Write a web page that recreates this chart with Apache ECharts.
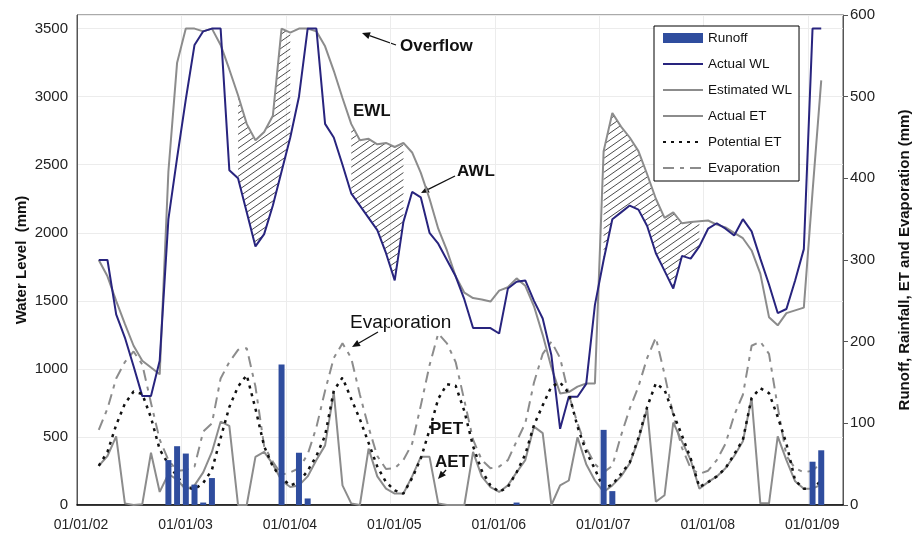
<!DOCTYPE html>
<html>
<head>
<meta charset="utf-8">
<script src="https://cdn.jsdelivr.net/npm/echarts@6/dist/echarts.min.js"></script>
<style>
  html, body { margin: 0; padding: 0; background: #fff; }
  #main { width: 919px; height: 534px; }
</style>
</head>
<body>
<div id="main"></div>
<script>
// x axis = months since 01/01/2002, monthly values plotted mid-month
var firstMonth = 2; // March 2002
var yearTicks = [0, 12, 24, 36, 48, 60, 72, 84];
var yearLabels = ["01/01/02", "01/01/03", "01/01/04", "01/01/05", "01/01/06", "01/01/07", "01/01/08", "01/01/09"];

// water levels (mm), left axis
var actualWL = [1800, 1800, 1400, 1230, 1020, 800, 800, 1060, 2100, 2550,
  2980, 3380, 3480, 3500, 3500, 2460, 2400, 2150, 1900, 1990,
  2200, 2450, 2700, 3000, 3500, 3500, 2800, 2700, 2500, 2290,
  2200, 2110, 2020, 1850, 1650, 2080, 2300, 2260, 2000, 1920,
  1800, 1680, 1510, 1300, 1300, 1300, 1260, 1590, 1640, 1650,
  1500, 1370, 1100, 560, 795, 795, 890, 1470, 1800, 2100,
  2150, 2200, 2170, 2050, 1850, 1720, 1590, 1830, 1810, 1900,
  2030, 2070, 2030, 1980, 2100, 2010, 1810, 1620, 1410, 1440,
  1650, 1880, 3500, 3500];
var estimatedWL = [1800, 1680, 1500, 1330, 1170, 1060, 1010, 960, 2450, 3250,
  3500, 3500, 3480, 3500, 3380, 3200, 3010, 2800, 2680, 2740,
  2860, 3500, 3470, 3500, 3500, 3480, 3370, 3190, 2990, 2800,
  2680, 2690, 2650, 2660, 2630, 2660, 2590, 2440, 2250, 2030,
  1870, 1680, 1560, 1520, 1510, 1495, 1575, 1600, 1665, 1610,
  1460, 1250, 1010, 820, 830, 870, 893, 893, 2600, 2880,
  2780, 2700, 2600, 2430, 2250, 2110, 2150, 2070, 2080, 2085,
  2090, 2060, 2040, 2000, 1960, 1870, 1700, 1380, 1320, 1410,
  1430, 1450, 2300, 3120];

// runoff, ET and evaporation (mm), right axis
var actualET = [48, 60, 84, 2, 0, 1, 64, 16, 38, 31,
  19, 24, 40, 65, 102, 97, 0, 0, 59, 65,
  50, 30, 22, 24, 35, 55, 73, 138, 24, 2,
  0, 69, 35, 20, 14, 14, 35, 59, 59, 2,
  0, 0, 0, 65, 35, 22, 16, 24, 40, 55,
  96, 88, 0, 24, 30, 83, 50, 30, 16, 24,
  35, 51, 80, 118, 4, 12, 101, 78, 55, 20,
  28, 35, 45, 60, 78, 131, 2, 2, 84, 55,
  29, 20, 20, 25];
var potentialET = [48, 65, 98, 124, 139, 136, 107, 68, 50, 35,
  22, 19, 27, 43, 82, 120, 145, 159, 118, 72,
  47, 33, 24, 28, 42, 60, 85, 140, 156, 130,
  105, 76, 47, 28, 18, 14, 33, 57, 92, 130,
  148, 146, 115, 72, 42, 24, 16, 22, 40, 62,
  98, 122, 145, 150, 137, 96, 65, 44, 20, 25,
  38, 52, 82, 120, 149, 141, 112, 85, 57, 22,
  28, 35, 45, 62, 80, 131, 143, 137, 108, 75,
  30, 20, 20, 30];
var evaporation = [92, 118, 155, 175, 188, 172, 125, 80, 55, 42,
  43, 47, 90, 100, 155, 175, 190, 192, 145, 72,
  53, 37, 40, 45, 62, 95, 140, 180, 198, 180,
  135, 95, 60, 44, 45, 55, 75, 122, 171, 210,
  198, 175, 128, 80, 55, 45, 47, 55, 78, 100,
  150, 185, 200, 180, 135, 100, 70, 50, 40, 48,
  85, 118, 145, 180, 205, 160, 110, 70, 45, 38,
  42, 55, 75, 110, 135, 195, 200, 185, 120, 60,
  45, 40, 42, 52];
var runoffMonth = [10, 11, 12, 13, 14, 15, 23, 25, 26, 50, 60, 61, 84, 85];
var runoff = [55, 72, 63, 25, 3, 33, 172, 64, 8, 3, 92, 17, 53, 67];

// months shaded between estimated and actual WL
var hatchRanges = [[18, 24], [31, 37], [60, 71]];

function toPoints(arr) {
  return arr.map(function (v, i) { return [firstMonth + i + 0.5, v]; });
}

// diagonal hatch pattern
var hatch = document.createElement("canvas");
hatch.width = 10; hatch.height = 7;
var hc = hatch.getContext("2d");
hc.strokeStyle = "#4a4a4a";
hc.lineWidth = 1;
hc.beginPath();
hc.moveTo(-10, 14); hc.lineTo(20, -7);
hc.moveTo(-20, 14); hc.lineTo(10, -7);
hc.moveTo(0, 14); hc.lineTo(30, -7);
hc.stroke();

function arrow(x1, y1, x2, y2) {
  var a = Math.atan2(y2 - y1, x2 - x1), L = 8, W = 3.5;
  var bx = x2 - L * Math.cos(a), by = y2 - L * Math.sin(a);
  return [
    { type: "line", shape: { x1: x1, y1: y1, x2: bx, y2: by }, style: { stroke: "#111", lineWidth: 1.3 } },
    { type: "polygon", shape: { points: [[x2, y2],
      [bx + W * Math.sin(a), by - W * Math.cos(a)],
      [bx - W * Math.sin(a), by + W * Math.cos(a)]] }, style: { fill: "#111" } }
  ];
}
function note(txt, x, y, font) {
  return { type: "text", x: x, y: y, style: { text: txt, font: font, fill: "#111", verticalAlign: "middle" } };
}

var chart = echarts.init(document.getElementById("main"));
var FONT = "Liberation Sans, Arial, sans-serif";
var BOLD = "bold 17px Liberation Sans, Arial, sans-serif";
var noSymbol = { opacity: 0 };

var option = {
  animation: false,
  backgroundColor: "#fff",
  textStyle: { fontFamily: FONT },
  grid: { left: 77, right: 76, top: 15, bottom: 29, show: true, borderColor: "#555", borderWidth: 1,
    containLabel: false, outerBoundsMode: "none" },
  legend: {
    orient: "vertical", left: 654, top: 26,
    padding: [5, 7, 6, 8],
    itemWidth: 40, itemHeight: 10, itemGap: 12,
    borderColor: "#000", borderWidth: 1, backgroundColor: "#fff",
    textStyle: { fontSize: 13.5, color: "#111", fontFamily: FONT },
    data: [
      { name: "Runoff", icon: "rect" },
      { name: "Actual WL", itemStyle: noSymbol },
      { name: "Estimated WL", itemStyle: noSymbol },
      { name: "Actual ET", itemStyle: noSymbol },
      { name: "Potential ET", itemStyle: noSymbol },
      { name: "Evaporation", itemStyle: noSymbol }
    ]
  },
  xAxis: {
    type: "value", min: 0, max: 88, interval: 12,
    axisLine: { lineStyle: { color: "#000", width: 1.5 } },
    axisTick: { show: false },
    axisLabel: {
      fontSize: 14, color: "#222", margin: 13, padding: [0, 0, 0, 8],
      formatter: function (v) { var i = yearTicks.indexOf(v); return i < 0 ? "" : yearLabels[i]; }
    },
    splitLine: { show: true, lineStyle: { color: "#ececec" } }
  },
  yAxis: [{
    type: "value", min: 0, max: 3600, interval: 500, position: "left",
    name: "Water Level  (mm)", nameLocation: "middle", nameRotate: 90, nameGap: 48,
    nameMoveOverlap: false,
    nameTextStyle: { fontWeight: "bold", fontSize: 15, color: "#111" },
    axisLine: { show: true, lineStyle: { color: "#555" } },
    axisTick: { show: false },
    axisLabel: { fontSize: 15, color: "#222", margin: 9, showMaxLabel: false,
      formatter: function (v) { return String(v); } },
    splitLine: { lineStyle: { color: "#ececec" } }
  }, {
    type: "value", min: 0, max: 600, interval: 100, position: "right",
    name: "Runoff, Rainfall, ET and Evaporation (mm)", nameLocation: "middle", nameRotate: 90, nameGap: 54,
    nameTextStyle: { fontWeight: "bold", fontSize: 15, color: "#111" },
    axisLine: { show: true, lineStyle: { color: "#555" } },
    axisTick: { show: true, inside: false, length: 5, lineStyle: { color: "#555" } },
    axisLabel: { fontSize: 15, color: "#222", margin: 7,
      formatter: function (v) { return String(v); } },
    splitLine: { show: false }
  }],
  series: [
    { name: "hatch", type: "custom", yAxisIndex: 0, silent: true, z: 1,
      data: hatchRanges.map(function (r) { return [r[0] + 0.5, actualWL[r[0] - firstMonth]]; }),
      encode: { x: 0, y: 1 },
      renderItem: function (params, api) {
        var r = hatchRanges[params.dataIndex];
        var top = [], bottom = [];
        for (var m = r[0]; m <= r[1]; m++) {
          var i = m - firstMonth;
          top.push(api.coord([m + 0.5, estimatedWL[i]]));
          bottom.unshift(api.coord([m + 0.5, actualWL[i]]));
        }
        return { type: "polygon", shape: { points: top.concat(bottom) },
          style: { fill: { image: hatch, repeat: "repeat" }, stroke: null } };
      } },
    { name: "Estimated WL", type: "line", yAxisIndex: 0, data: toPoints(estimatedWL), symbol: "none",
      color: "#8c8c8c", lineStyle: { color: "#8c8c8c", width: 2 }, z: 2 },
    { name: "Actual WL", type: "line", yAxisIndex: 0, data: toPoints(actualWL), symbol: "none",
      color: "#28247e", lineStyle: { color: "#28247e", width: 2 }, z: 3 },
    { name: "Actual ET", type: "line", yAxisIndex: 1, data: toPoints(actualET), symbol: "none",
      color: "#8c8c8c", lineStyle: { color: "#8c8c8c", width: 2 }, z: 2 },
    { name: "Potential ET", type: "line", yAxisIndex: 1, data: toPoints(potentialET), symbol: "none",
      color: "#111", lineStyle: { color: "#111", width: 2.5, type: [3, 5] }, z: 3 },
    { name: "Evaporation", type: "line", yAxisIndex: 1, data: toPoints(evaporation), symbol: "none",
      color: "#8c8c8c", lineStyle: { color: "#8c8c8c", width: 2, type: [11, 6, 4, 6] }, z: 2 },
    { name: "Runoff", type: "bar", yAxisIndex: 1, barWidth: 6, z: 4,
      data: runoffMonth.map(function (m, i) { return [m + 0.5, runoff[i]]; }),
      itemStyle: { color: "#2f4d9e" } }
  ],
  graphic: [
    note("Overflow", 400, 46, BOLD),
    note("EWL", 353, 111, BOLD),
    note("AWL", 457, 171, BOLD),
    note("Evaporation", 350, 323, "19px Liberation Sans, Arial, sans-serif"),
    note("PET", 430, 429, BOLD),
    note("AET", 435, 462, BOLD)
  ].concat(arrow(396, 45, 362, 33), arrow(455, 176, 421, 193),
           arrow(378, 332, 352, 347), arrow(446, 470, 438, 479))
};

chart.setOption(option);
</script>
</body>
</html>
